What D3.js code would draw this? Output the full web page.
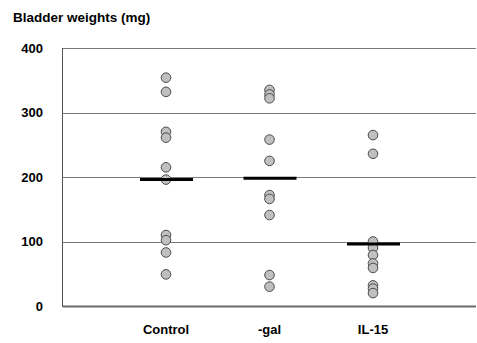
<!DOCTYPE html>
<html>
<head>
<meta charset="utf-8">
<script src="https://cdn.jsdelivr.net/npm/d3@7"></script>
<style>
  body { margin: 0; background: #fff; }
  text { font-family: "Liberation Sans", Arial, sans-serif; font-weight: bold; fill: #000; }
</style>
</head>
<body>
<svg class="main-graphic"></svg>
<script>
var categories = ["Control", "-gal", "IL-15"];
var controlValues = [354, 332, 270, 261, 215, 196, 110, 102, 83, 49];
var galValues = [335, 328, 322, 258, 225, 172, 166, 141, 48, 30];
var il15Values = [265, 236, 100, 90, 79, 66, 59, 32, 27, 20];
var means = [196, 198, 96];
var yTicks = [0, 100, 200, 300, 400];

var width = 477, height = 343;
var margin = {top: 48, right: 1, bottom: 37, left: 63};

var svg = d3.select(".main-graphic")
    .attr("width", width)
    .attr("height", height);

var y = d3.scaleLinear()
    .domain([0, 400])
    .range([height - margin.bottom, margin.top]);

var x = d3.scalePoint()
    .domain(categories)
    .range([166, 373]);

// gridlines
svg.append("g")
    .selectAll("line")
    .data(yTicks)
  .enter().append("line")
    .attr("x1", margin.left)
    .attr("x2", width - margin.right)
    .attr("y1", function(d) { return Math.round(y(d)) + 0.5; })
    .attr("y2", function(d) { return Math.round(y(d)) + 0.5; })
    .attr("stroke", function(d) { return d === 0 ? "#6a6a6a" : "#7a7a7a"; })
    .attr("stroke-width", function(d) { return d === 0 ? 2 : 1; });

// y axis line
svg.append("line")
    .attr("x1", margin.left - 0.5)
    .attr("x2", margin.left - 0.5)
    .attr("y1", y(400))
    .attr("y2", y(0) + 1)
    .attr("stroke", "#555")
    .attr("stroke-width", 1);

// y tick labels
svg.append("g")
    .selectAll("text")
    .data(yTicks)
  .enter().append("text")
    .attr("x", 43)
    .attr("y", function(d) { return y(d); })
    .attr("dy", "0.35em")
    .attr("text-anchor", "end")
    .attr("font-size", "13px")
    .text(function(d) { return d; });

// category labels
svg.append("g")
    .selectAll("text")
    .data(categories)
  .enter().append("text")
    .attr("x", function(d) { return x(d); })
    .attr("y", 334)
    .attr("text-anchor", "middle")
    .attr("font-size", "13px")
    .text(function(d) { return d; });

// title
svg.append("text")
    .attr("x", 13)
    .attr("y", 22)
    .attr("font-size", "13.5px")
    .text("Bladder weights (mg)");

// points
var groups = [controlValues, galValues, il15Values];
groups.forEach(function(vals, i) {
  svg.append("g")
      .selectAll("circle")
      .data(vals)
    .enter().append("circle")
      .attr("cx", x(categories[i]))
      .attr("cy", function(d) { return y(d); })
      .attr("r", 4.8)
      .attr("fill", "#c0c0c0")
      .attr("stroke", "#4a4a4a")
      .attr("stroke-width", 1);
});

// mean bars
svg.append("g")
    .selectAll("line")
    .data(means)
  .enter().append("line")
    .attr("x1", function(d, i) { return x(categories[i]) - 26; })
    .attr("x2", function(d, i) { return x(categories[i]) + 27; })
    .attr("y1", function(d) { return y(d); })
    .attr("y2", function(d) { return y(d); })
    .attr("stroke", "#000")
    .attr("stroke-width", 3);
</script>
</body>
</html>
